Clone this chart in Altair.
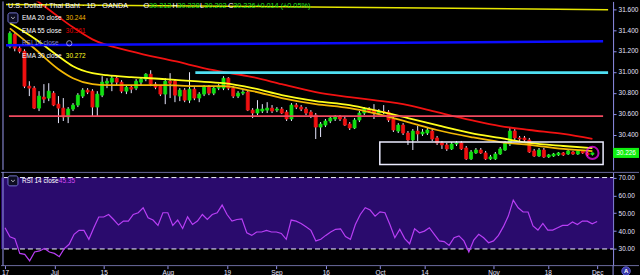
import altair as alt
import pandas as pd

FONT = "Liberation Sans"

# ---------------- data (USD/THB daily, Jun 17 .. Dec 2) ----------------
opens = [
    31.245, 31.359, 31.226, 31.197, 30.864, 30.845, 30.654, 30.759, 30.750, 30.797,
    30.692, 30.654, 30.569, 30.645, 30.683, 30.769, 30.826, 30.816, 30.664, 30.778,
    30.892, 30.902, 30.940, 30.902, 30.816, 30.854, 30.845, 30.902, 30.931, 30.978,
    30.883, 30.864, 30.788, 30.911, 30.911, 30.769, 30.826, 30.730, 30.835, 30.750,
    30.788, 30.854, 30.797, 30.845, 30.845, 30.940, 30.845, 30.769, 30.797, 30.807,
    30.635, 30.607, 30.626, 30.635, 30.654, 30.635, 30.645, 30.616, 30.550, 30.683,
    30.664, 30.645, 30.616, 30.588, 30.473, 30.492, 30.531, 30.550, 30.569, 30.550,
    30.502, 30.464, 30.540, 30.607, 30.645, 30.635, 30.607, 30.621, 30.616, 30.550,
    30.435, 30.492, 30.416, 30.350, 30.435, 30.407, 30.416, 30.435, 30.369, 30.321,
    30.302, 30.264, 30.311, 30.321, 30.273, 30.169, 30.226, 30.254, 30.226, 30.169,
    30.169, 30.216, 30.254, 30.311, 30.435, 30.369, 30.369, 30.350, 30.245, 30.197,
    30.254, 30.188, 30.197, 30.207, 30.226, 30.216, 30.235, 30.216, 30.245, 30.226,
    30.212]
highs = [
    31.388, 31.369, 31.245, 31.216, 30.911, 30.864, 30.816, 30.883, 30.892, 30.816,
    30.769, 30.750, 30.664, 30.702, 30.797, 30.845, 30.845, 30.835, 30.816, 30.959,
    30.940, 30.969, 30.959, 30.921, 30.873, 30.873, 30.931, 30.950, 30.988, 31.016,
    30.902, 30.873, 30.940, 30.988, 30.931, 30.845, 30.845, 30.997, 30.854, 30.807,
    30.873, 30.873, 30.864, 30.883, 30.959, 30.950, 30.864, 30.816, 30.826, 30.826,
    30.654, 30.730, 30.692, 30.711, 30.683, 30.664, 30.664, 30.635, 30.702, 30.702,
    30.683, 30.664, 30.635, 30.607, 30.521, 30.550, 30.578, 30.588, 30.588, 30.569,
    30.521, 30.559, 30.626, 30.664, 30.664, 30.692, 30.645, 30.683, 30.635, 30.569,
    30.511, 30.511, 30.435, 30.454, 30.483, 30.454, 30.464, 30.454, 30.388, 30.340,
    30.321, 30.330, 30.340, 30.340, 30.292, 30.254, 30.273, 30.273, 30.245, 30.207,
    30.235, 30.283, 30.340, 30.464, 30.454, 30.388, 30.388, 30.369, 30.264, 30.273,
    30.273, 30.216, 30.226, 30.235, 30.235, 30.254, 30.245, 30.254, 30.254, 30.235,
    30.228]
lows = [
    31.226, 31.197, 31.178, 30.845, 30.769, 30.645, 30.626, 30.702, 30.721, 30.673,
    30.511, 30.531, 30.511, 30.626, 30.664, 30.750, 30.788, 30.569, 30.569, 30.759,
    30.845, 30.816, 30.873, 30.797, 30.788, 30.797, 30.826, 30.873, 30.911, 30.864,
    30.835, 30.769, 30.692, 30.750, 30.711, 30.721, 30.711, 30.702, 30.730, 30.711,
    30.769, 30.778, 30.778, 30.826, 30.826, 30.826, 30.750, 30.750, 30.778, 30.626,
    30.559, 30.588, 30.607, 30.607, 30.607, 30.616, 30.597, 30.531, 30.531, 30.645,
    30.626, 30.588, 30.559, 30.359, 30.378, 30.473, 30.511, 30.531, 30.531, 30.483,
    30.445, 30.454, 30.521, 30.588, 30.607, 30.550, 30.588, 30.597, 30.521, 30.426,
    30.416, 30.397, 30.302, 30.254, 30.340, 30.388, 30.397, 30.340, 30.302, 30.264,
    30.245, 30.254, 30.292, 30.254, 30.159, 30.159, 30.216, 30.216, 30.159, 30.159,
    30.159, 30.207, 30.245, 30.292, 30.350, 30.340, 30.330, 30.226, 30.188, 30.188,
    30.178, 30.178, 30.188, 30.197, 30.197, 30.207, 30.207, 30.207, 30.216, 30.197,
    30.202]
closes = [
    31.369, 31.226, 31.197, 30.864, 30.845, 30.654, 30.769, 30.740, 30.816, 30.683,
    30.654, 30.569, 30.645, 30.683, 30.778, 30.826, 30.807, 30.664, 30.788, 30.902,
    30.911, 30.940, 30.902, 30.816, 30.854, 30.835, 30.911, 30.931, 30.978, 30.883,
    30.854, 30.788, 30.911, 30.892, 30.778, 30.826, 30.730, 30.835, 30.750, 30.788,
    30.854, 30.797, 30.845, 30.864, 30.940, 30.845, 30.769, 30.797, 30.807, 30.635,
    30.607, 30.645, 30.645, 30.654, 30.626, 30.645, 30.607, 30.550, 30.683, 30.664,
    30.645, 30.607, 30.578, 30.473, 30.502, 30.531, 30.559, 30.569, 30.550, 30.492,
    30.464, 30.540, 30.607, 30.645, 30.626, 30.607, 30.626, 30.616, 30.540, 30.445,
    30.492, 30.416, 30.350, 30.435, 30.407, 30.426, 30.445, 30.359, 30.321, 30.302,
    30.264, 30.311, 30.321, 30.264, 30.169, 30.235, 30.254, 30.226, 30.169, 30.188,
    30.216, 30.264, 30.321, 30.435, 30.369, 30.359, 30.350, 30.235, 30.197, 30.254,
    30.188, 30.207, 30.216, 30.226, 30.207, 30.245, 30.216, 30.245, 30.226, 30.207,
    30.226]
rsi_values = [
    41.9, 36.8, 35.8, 27.5, 27.0, 23.3, 28.3, 28.9, 30.3, 28.3,
    27.5, 25.7, 30.2, 32.6, 38.2, 40.4, 40.4, 35.4, 41.9, 47.9,
    47.9, 49.3, 46.5, 43.4, 45.6, 45.6, 49.3, 50.3, 53.1, 47.5,
    46.2, 43.2, 50.3, 50.3, 43.2, 46.2, 41.5, 48.0, 43.7, 45.6,
    49.3, 46.5, 49.3, 50.3, 54.6, 49.3, 45.6, 46.5, 46.9, 39.1,
    37.6, 39.5, 39.5, 40.4, 39.5, 39.5, 38.7, 35.4, 46.2, 45.6,
    44.3, 42.5, 40.4, 34.5, 35.4, 37.6, 39.5, 41.0, 41.3, 36.9,
    35.4, 43.7, 49.3, 53.1, 51.8, 48.4, 50.8, 50.3, 43.7, 36.3,
    41.0, 35.8, 32.9, 41.3, 39.1, 40.0, 41.9, 38.2, 34.5, 34.1,
    32.0, 36.3, 37.3, 34.5, 28.3, 35.0, 38.2, 36.3, 33.5, 34.5,
    37.6, 42.5, 48.4, 57.4, 53.1, 50.7, 50.7, 42.9, 40.6, 44.3,
    40.6, 40.6, 41.9, 43.2, 43.2, 45.1, 43.7, 45.6, 45.6, 44.1,
    45.35]

ema_idx = [0, 5, 10, 13, 17, 20, 25, 32, 38, 44, 50, 56, 63, 70, 75, 82, 88, 95, 101, 107, 114, 120]
ema30 = [31.464, 31.321, 31.150, 31.054, 30.988, 30.969, 30.950, 30.931, 30.911, 30.892, 30.845,
         30.778, 30.721, 30.683, 30.635, 30.559, 30.492, 30.416, 30.369, 30.321, 30.292, 30.272]
ema20 = [31.416, 31.226, 31.026, 30.940, 30.883, 30.873, 30.873, 30.873, 30.864, 30.864, 30.816,
         30.750, 30.692, 30.654, 30.607, 30.521, 30.445, 30.378, 30.330, 30.302, 30.264, 30.244]
ema55_idx = [0, 5, 8, 13, 17, 25, 34, 42, 50, 56, 63, 70, 75, 82, 88, 95, 101, 107, 114, 120]
ema55 = [31.90, 31.70, 31.597, 31.426, 31.311, 31.197, 31.102, 31.016, 30.950, 30.883,
         30.807, 30.759, 30.730, 30.683, 30.616, 30.540, 30.483, 30.445, 30.407, 30.361]

# drawings (trend lines / levels / box), in bar-index and price units
yellow_idx, yellow_p = [-0.81, 123.23], [31.645, 31.594]
blue_idx, blue_p = [-0.81, 122.2], [31.254, 31.292]
cyan_idx, cyan_p = [38.2, 123.23], [30.993, 30.993]
pink_idx, pink_p = [-0.2, 122.2], [30.578, 30.578]
box_idx, box_p = [76.2, 122.2], [30.116, 30.330]
last_idx, last_price = 120, 30.226

tick_idx = [0, 10, 20, 33, 45, 55, 65, 76, 85, 99, 110, 120]
tick_labels = ["17", "Jul", "15", "Aug", "19", "Sep", "16", "Oct", "14", "Nov", "18", "Dec"]
price_ticks = [30.4, 30.6, 30.8, 31.0, 31.2, 31.4, 31.6]
rsi_ticks = [30, 40, 50, 60, 70]
rsi_band = [30, 70]

# ---------------- frames ----------------
idx = list(range(len(closes)))
candles = pd.DataFrame({"i": idx, "open": opens, "high": highs, "low": lows, "close": closes})
rsi_df = pd.DataFrame({"i": idx, "rsi": rsi_values})
e20 = pd.DataFrame({"i": ema_idx, "v": ema20})
e30 = pd.DataFrame({"i": ema_idx, "v": ema30})
e55 = pd.DataFrame({"i": ema55_idx, "v": ema55})
one = pd.DataFrame({"d": [0]})

# ---------------- scales / axes ----------------
W, H_TOP, H_BOT = 614, 169, 94
AX = "#8f8fe8"
LBL = "#e4e4ff"
xs = alt.Scale(domain=[-0.81, 123.23], nice=False, zero=False)
ps = alt.Scale(domain=[30.0638, 31.6733], nice=False, zero=False)
rs = alt.Scale(domain=[20.67, 73.18], nice=False, zero=False)

price_axis = alt.Axis(orient="right", values=price_ticks, format=".3f", title=None, grid=False,
                      domainColor=AX, tickColor=AX, tickSize=3, labelColor=LBL, labelFont=FONT,
                      labelFontSize=6.5, labelPadding=2, labelFlush=False, labelOverlap=False)
rsi_axis = alt.Axis(orient="right", values=rsi_ticks, format=".2f", title=None, grid=False,
                    domainColor=AX, tickColor=AX, tickSize=3, labelColor=LBL, labelFont=FONT,
                    labelFontSize=6.5, labelPadding=2, labelFlush=False, labelOverlap=False)
lab_arr = "[" + ",".join("'%s'" % t for t in tick_labels) + "]"
idx_arr = "[" + ",".join(str(t) for t in tick_idx) + "]"
date_axis = alt.Axis(values=tick_idx, labelExpr=f"{lab_arr}[indexof({idx_arr}, datum.value)]",
                     title=None, grid=False, domain=False, tickColor=AX, tickSize=3,
                     labelColor=LBL, labelFont=FONT, labelFontSize=6.5, labelPadding=1,
                     labelFlush=False, labelOverlap=False, labelBound=False)


def PX(f):
    return alt.X(f, type="quantitative", scale=xs, axis=None)


def PY(f):
    return alt.Y(f, type="quantitative", scale=ps, axis=price_axis)


def RX(f):
    return alt.X(f, type="quantitative", scale=xs, axis=date_axis)


def RY(f):
    return alt.Y(f, type="quantitative", scale=rs, axis=rsi_axis)


def txt(s, x, y, color, size=6.5, align="left", weight="normal"):
    return alt.Chart(one).mark_text(text=s, align=align, baseline="middle", color=color,
                                    fontSize=size, font=FONT, fontWeight=weight).encode(
        x=alt.value(x), y=alt.value(y))


def seg(xv, yv, color, width, dash=None):
    df = pd.DataFrame({"i": xv, "p": yv})
    kw = dict(color=color, strokeWidth=width, clip=True)
    if dash:
        kw["strokeDash"] = dash
    return alt.Chart(df).mark_line(**kw).encode(x=PX("i"), y=PY("p"))


def dropbox(y0):
    box = alt.Chart(one).mark_rect(fill="#0d0d22", stroke="#7272cc", strokeWidth=1, cornerRadius=2).encode(
        x=alt.value(7), x2=alt.value(17), y=alt.value(y0), y2=alt.value(y0 + 10))
    chev = alt.Chart(one).mark_point(shape="M-1,-0.45L0,0.45L1,-0.45", filled=False, stroke="white",
                                     strokeWidth=1, size=14).encode(x=alt.value(12), y=alt.value(y0 + 5))
    return [box, chev]


GREEN, RED = "#12e012", "#f01010"
WHITE_WICK = "#e8e8ff"
up = "datum.close >= datum.open"

wicks = alt.Chart(candles).mark_rule(color=WHITE_WICK, strokeWidth=1).encode(
    x=PX("i"), y=PY("low"), y2=alt.Y2("high"))
bodies = alt.Chart(candles).mark_bar(size=3, strokeWidth=0.8).encode(
    x=PX("i"), y=PY("open"), y2=alt.Y2("close"),
    color=alt.condition(up, alt.value(GREEN), alt.value(RED)),
    stroke=alt.condition(up, alt.value(GREEN), alt.value(RED)))

ema_l20 = alt.Chart(e20).mark_line(color="#f2b705", strokeWidth=1.8, clip=True, interpolate="monotone").encode(
    x=PX("i"), y=PY("v"))
ema_l30 = alt.Chart(e30).mark_line(color="#ffff1a", strokeWidth=1.8, clip=True, interpolate="monotone").encode(
    x=PX("i"), y=PY("v"))
ema_l55 = alt.Chart(e55).mark_line(color="#f21111", strokeWidth=1.8, clip=True, interpolate="monotone").encode(
    x=PX("i"), y=PY("v"))

box_df = pd.DataFrame({"x1": [box_idx[0]], "x2": [box_idx[1]], "p1": [box_p[0]], "p2": [box_p[1]]})
box = alt.Chart(box_df).mark_rect(filled=False, stroke="#ececff", strokeWidth=1.5).encode(
    x=PX("x1"), x2=alt.X2("x2"), y=PY("p1"), y2=alt.Y2("p2"))

last_df = pd.DataFrame({"i": [last_idx], "p": [last_price]})
circle = alt.Chart(last_df).mark_point(shape="circle", filled=False, stroke="#ff10ff", strokeWidth=2,
                                        size=150).encode(x=PX("i"), y=PY("p"))
plabel = alt.Chart(last_df).transform_calculate(hi="datum.p + 0.048", lo="datum.p - 0.048").mark_rect(
    color="#10f010").encode(x=alt.value(614), x2=alt.value(640), y=PY("hi:Q"), y2=alt.Y2("lo"))
ptext = alt.Chart(last_df).mark_text(text="30.226", color="white", fontSize=6.5, font=FONT,
                                     align="center", baseline="middle").encode(
    x=alt.value(627), y=PY("p"))

top_layers = [
    wicks, bodies, ema_l55, ema_l30, ema_l20,
    seg(yellow_idx, yellow_p, "#e6e600", 1.5),
    seg(blue_idx, blue_p, "#0c0cff", 2.5),
    seg(cyan_idx, cyan_p, "#4fdff2", 2.6),
    seg(pink_idx, pink_p, "#f04a5f", 1.8),
    box, circle, plabel, ptext,
    alt.Chart(one).mark_rule(color="#9a9aee", strokeWidth=1).encode(
        x=alt.value(2), y=alt.value(0), y2=alt.value(H_TOP)),
    # header
    txt("U.S. Dollar / Thai Baht · 1D · OANDA", 7, 5, "#ffffff", 7.3),
    txt("O", 143, 5, "#ffffff", 7.3), txt("30.212", 148.5, 5, "#1fe41f", 7.3),
    txt("H", 172, 5, "#ffffff", 7.3), txt("30.228", 177, 5, "#1fe41f", 7.3),
    txt("L", 199.5, 5, "#ffffff", 7.3), txt("30.202", 204, 5, "#1fe41f", 7.3),
    txt("C", 228, 5, "#ffffff", 7.3), txt("30.226", 233, 5, "#1fe41f", 7.3),
    txt("+0.014 (+0.05%)", 256, 5, "#1fe41f", 7.3),
    # legend
    *dropbox(11.5),
    txt("EMA 20 close", 21, 16.7, "#ffffff"), txt("30.244", 65, 16.7, "#f5b800"),
    txt("EMA 55 close", 21, 29.2, "#ffffff"), txt("30.361", 65, 29.2, "#e00000"),
    txt("RSI 14 close", 21, 42, "#8585d0"),
    alt.Chart(one).mark_point(shape="circle", filled=False, stroke="#d0d0ff", strokeWidth=1, size=28).encode(
        x=alt.value(68.5), y=alt.value(42)),
    txt("EMA 30 close", 21, 54.5, "#ffffff"), txt("30.272", 65, 54.5, "#ffff22"),
]
top = alt.layer(*top_layers).properties(width=W, height=H_TOP)

band_df = pd.DataFrame({"lo": [rsi_band[0]], "hi": [rsi_band[1]]})
lvl_df = pd.DataFrame({"level": rsi_band})
bot_layers = [
    alt.Chart(band_df).mark_rect(color="#2a0b6d").encode(
        x=alt.value(0), x2=alt.value(W), y=RY("hi"), y2=alt.Y2("lo")),
    alt.Chart(lvl_df).mark_rule(color="#f0f0ff", strokeWidth=1, strokeDash=[5, 3]).encode(
        y=RY("level"), x=alt.value(3), x2=alt.value(W)),
    alt.Chart(rsi_df).mark_line(color="#b83ef5", strokeWidth=1.2).encode(x=RX("i"), y=RY("rsi")),
    alt.Chart(one).mark_rule(color="#6a6a9e", strokeWidth=1).encode(
        x=alt.value(0), x2=alt.value(640), y=alt.value(0.5)),
    alt.Chart(one).mark_rule(color="#6a6a9e", strokeWidth=1).encode(
        x=alt.value(0), x2=alt.value(640), y=alt.value(H_BOT)),
    alt.Chart(one).mark_rule(color="#9a9aee", strokeWidth=1).encode(
        x=alt.value(2), y=alt.value(0), y2=alt.value(H_BOT)),
    alt.Chart(one).mark_rule(color=AX, strokeWidth=1).encode(
        x=alt.value(W), y=alt.value(H_BOT), y2=alt.value(106)),
    *dropbox(4),
    txt("RSI 14 close", 21, 9.2, "#ffffff"), txt("45.35", 58, 9.2, "#d449f5"),
    alt.Chart(one).mark_point(shape="circle", filled=True, fill="#3636a6", stroke="#6b6be0",
                              strokeWidth=0.8, size=75, opacity=1).encode(x=alt.value(627), y=alt.value(99.5)),
    txt("A", 627, 99.8, "#ffffff", 6, "center", "bold"),
]
bottom = alt.layer(*bot_layers).properties(width=W, height=H_BOT)

chart = alt.vconcat(top, bottom, spacing=0).properties(
    background="black", padding=0).configure_view(strokeWidth=0)

chart.save("out.html", embed_options={"renderer": "svg", "actions": False})
